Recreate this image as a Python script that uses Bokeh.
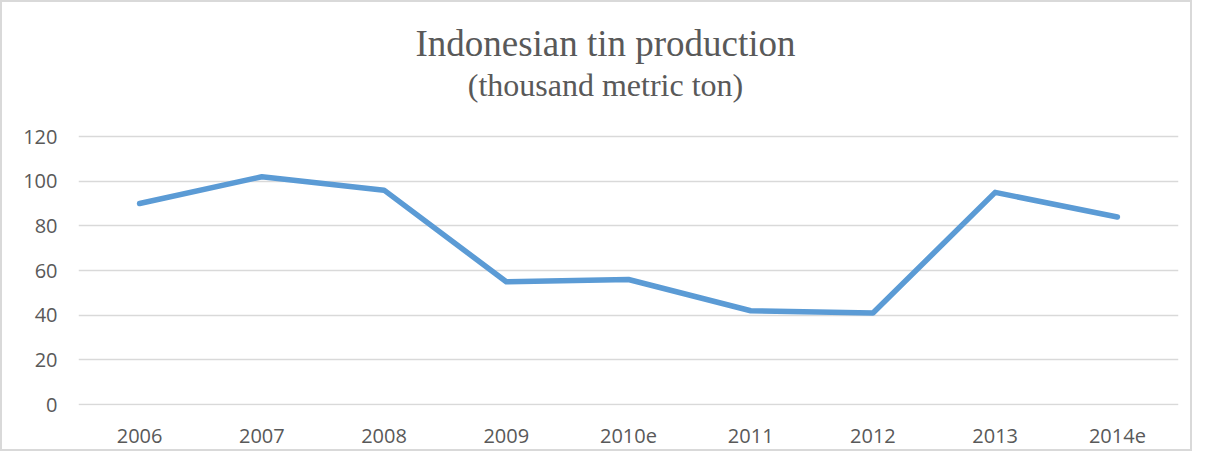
from bokeh.plotting import figure
from bokeh.models import Label, Range1d, FactorRange, FixedTicker
from bokeh.embed import file_html
from bokeh.resources import INLINE

years = ["2006", "2007", "2008", "2009", "2010e", "2011", "2012", "2013", "2014e"]
production = [90, 102, 96, 55, 56, 42, 41, 95, 84]
y_ticks = [0, 20, 40, 60, 80, 100, 120]
title_text = "Indonesian tin production"
subtitle_text = "(thousand metric ton)"

# the plotting frame extends up to the top of the figure so the title
# (drawn as frame-relative labels) is not clipped; grid lines only at y_ticks
p = figure(
    x_range=FactorRange(*years, range_padding=0),
    y_range=Range1d(-0.4, 180),
    width=1192, height=451,
    output_backend="svg", toolbar_location=None,
    min_border_left=76, min_border_right=16,
    min_border_top=0, min_border_bottom=48,
)
p.title = None
p.styles = {"border": "2px solid #d9d9d9", "box-sizing": "border-box"}
p.outline_line_color = None
p.background_fill_color = "white"
p.border_fill_color = "white"

p.line(years, production, line_width=5.5, line_color="#5B9BD5",
       line_join="round", line_cap="round")

p.yaxis.ticker = FixedTicker(ticks=y_ticks)
for ax in (p.xaxis[0], p.yaxis[0]):
    ax.axis_line_color = None
    ax.major_tick_line_color = None
    ax.minor_tick_line_color = None
    ax.major_label_text_color = "#595959"
    ax.major_label_text_font = "Open Sans"
    ax.major_label_text_font_size = "20px"
p.xaxis.major_label_standoff = 17
p.yaxis.major_label_standoff = 15

p.xgrid.grid_line_color = None
p.ygrid.grid_line_color = "#D9D9D9"
p.ygrid.grid_line_width = 1.5

p.add_layout(Label(x=527, y=321, x_units="screen", y_units="screen",
                   text=subtitle_text, text_align="center", text_baseline="alphabetic",
                   text_font="Liberation Serif", text_font_size="32px",
                   text_color="#595959"))
p.add_layout(Label(x=527, y=362, x_units="screen", y_units="screen",
                   text=title_text, text_align="center", text_baseline="alphabetic",
                   text_font="Liberation Serif", text_font_size="37px",
                   text_color="#595959"))

open("out.html", "w").write(file_html(p, INLINE))
